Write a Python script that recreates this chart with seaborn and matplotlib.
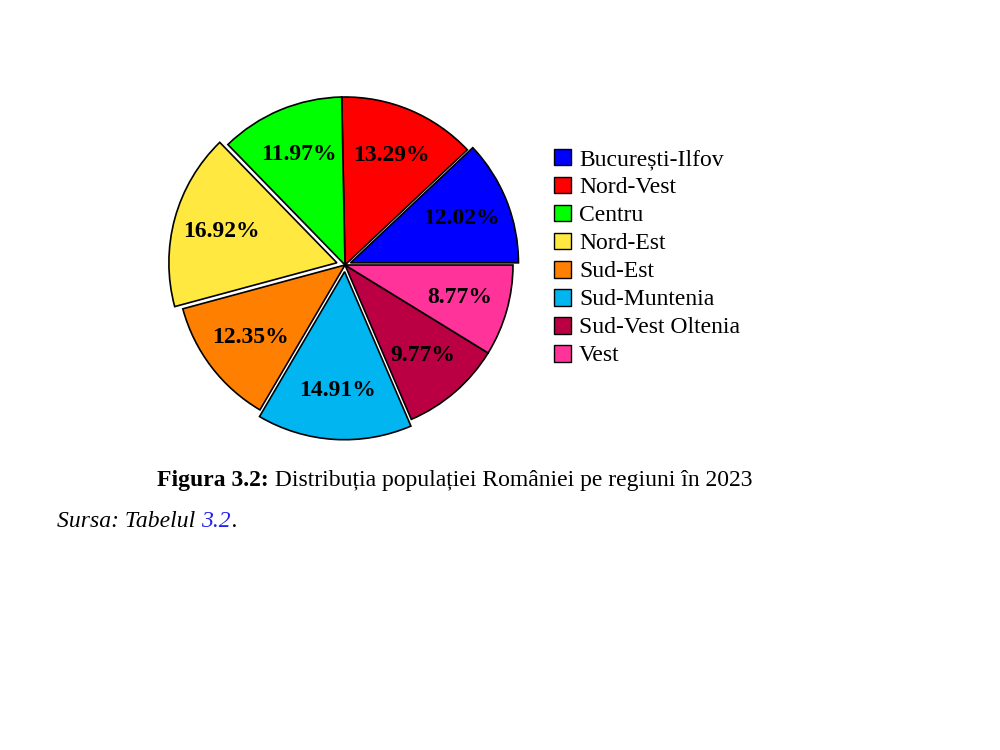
import matplotlib
matplotlib.use("Agg")
import matplotlib.pyplot as plt
import seaborn as sns
from matplotlib.patches import Patch

sns.set_theme(style="white")
plt.rcParams['font.family'] = ['Liberation Serif', 'DejaVu Serif']
plt.rcParams['text.color'] = 'black'

regions = ["București-Ilfov", "Nord-Vest", "Centru", "Nord-Est", "Sud-Est",
           "Sud-Muntenia", "Sud-Vest Oltenia", "Vest"]
shares = [12.02, 13.29, 11.97, 16.92, 12.35, 14.91, 9.77, 8.77]
colors = ["#0000FF", "#FF0000", "#00FF00", "#FFE840", "#FF8000",
          "#00B5F0", "#BA0042", "#FF3399"]
explode = [0.035, 0, 0, 0.05, 0, 0.04, 0, 0]

W, H = 1000, 750
fig = plt.figure(figsize=(10, 7.5), dpi=100)
fig.patch.set_facecolor("white")

cx, cy, r, half = 345, 265, 168, 200
ax = fig.add_axes([(cx - half) / W, (H - cy - half) / H, 2 * half / W, 2 * half / H])
ax.set_aspect("equal")
ax.axis("off")

wedges, texts, autotexts = ax.pie(
    shares, colors=colors, explode=explode, startangle=0, counterclock=True,
    autopct=lambda p: f"{p:.2f}%", pctdistance=0.71, radius=1,
    wedgeprops=dict(edgecolor="black", linewidth=1.2),
    textprops=dict(fontsize=17, fontweight="bold", color="black"))
ax.set_xlim(-half / r, half / r)
ax.set_ylim(-half / r, half / r)

handles = [Patch(facecolor=c, edgecolor="black", linewidth=1.0) for c in colors]
fig.legend(handles, regions, loc="upper left", bbox_to_anchor=(0.554, 0.802),
           frameon=False, fontsize=17, handlelength=0.72, handleheight=0.72,
           handletextpad=0.34, labelspacing=0.27, borderpad=0, borderaxespad=0,
           labelcolor="black")

# caption
fs = 17
yb = 1 - 486 / H
t1 = fig.text(0, yb, "Figura 3.2:", fontsize=fs, fontweight="bold", va="baseline")
t2 = fig.text(0, yb, " Distribuția populației României pe regiuni în 2023",
              fontsize=fs, va="baseline")
fig.canvas.draw()
rend = fig.canvas.get_renderer()
w1 = t1.get_window_extent(rend).width
w2 = t2.get_window_extent(rend).width
x0 = 455 - (w1 + w2) / 2
t1.set_x(x0 / W)
t2.set_x((x0 + w1) / W)

ys = 1 - 527 / H
s1 = fig.text(57 / W, ys, "Sursa: Tabelul ", fontsize=fs, style="italic", va="baseline")
fig.canvas.draw()
ws1 = s1.get_window_extent(rend).width
s2 = fig.text((57 + ws1) / W, ys, "3.2", fontsize=fs, style="italic",
              va="baseline", color="#2222EE")
fig.canvas.draw()
ws2 = s2.get_window_extent(rend).width
fig.text((57 + ws1 + ws2) / W, ys, ".", fontsize=fs, style="italic", va="baseline")

fig.savefig("out.png", dpi=100, facecolor="white")
